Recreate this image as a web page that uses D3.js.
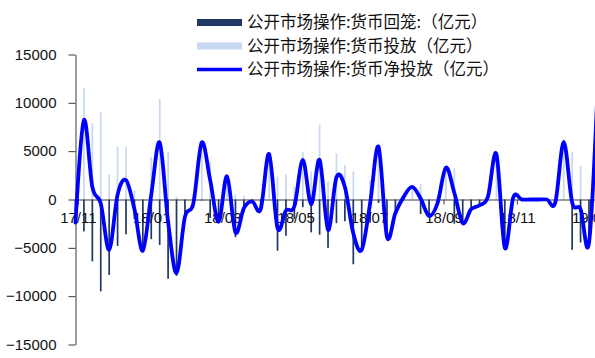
<!DOCTYPE html>
<html>
<head>
<meta charset="utf-8">
<script src="https://cdn.jsdelivr.net/npm/d3@7"></script>
<style>
  html, body { margin: 0; padding: 0; background: #fff; }
  svg { display: block; }
</style>
</head>
<body>
<svg id="chart" width="595" height="358"></svg>
<script>
// Weekly open market operations, 亿元 (week start dates)
const weeks = [
  "2017-10-30","2017-11-06","2017-11-13","2017-11-20","2017-11-27","2017-12-04","2017-12-11","2017-12-18","2017-12-25",
  "2018-01-01","2018-01-08","2018-01-15","2018-01-22","2018-01-29","2018-02-05","2018-02-12","2018-02-19","2018-02-26",
  "2018-03-05","2018-03-12","2018-03-19","2018-03-26","2018-04-02","2018-04-09","2018-04-16","2018-04-23","2018-04-30",
  "2018-05-07","2018-05-14","2018-05-21","2018-05-28","2018-06-04","2018-06-11","2018-06-18","2018-06-25","2018-07-02",
  "2018-07-09","2018-07-16","2018-07-23","2018-07-30","2018-08-06","2018-08-13","2018-08-20","2018-08-27","2018-09-03",
  "2018-09-10","2018-09-17","2018-09-24","2018-10-01","2018-10-08","2018-10-15","2018-10-22","2018-10-29","2018-11-05",
  "2018-11-12","2018-11-19","2018-11-26","2018-12-03","2018-12-10","2018-12-17","2018-12-24","2018-12-31","2019-01-07"
];
// 货币投放
const injection = [
  0, 11500, 7900, 9000, 2600, 5500, 5400, 1000, 0,
  4400, 10400, 4900, 300, 0, 500, 6000, 3900, 0,
  2400, 500, 400, 0, 0, 4700, 2350, 2600, 1300,
  4900, 2900, 7750, 1850, 4750, 3550, 2900, 0, 2000,
  5800, 0, 0, 300, 1300, 1600, 0, 0, 3300,
  3200, 0, 0, 0, 300, 4700, 0, 200, 0,
  0, 0, 0, 0, 5950, 4900, 3450, 0, 13000
];
// 货币回笼 (negative = withdrawn)
const withdrawal = [
  -2400, -3300, -6400, -9500, -7800, -4800, -3600, -2000, -5300,
  -4100, -4700, -8200, -7900, -1800, -900, -100, -1900, -2300,
  0, -3900, -1300, -200, -1000, 0, -5300, -3750, -2000,
  -800, -3400, -3650, -5000, -2450, -2250, -6700, -5200, -2400,
  -350, -3850, -1400, 0, 0, -1500, -1700, -400, 0,
  -2500, -2450, -1000, -600, 0, 0, -5000, 0, 0,
  0, 0, 0, -300, 0, -5200, -4450, -4500, -2000
];
// 货币净投放
const netInjection = [
  -2400, 8200, 1300, -400, -5200, 500, 2000, -1000, -5300,
  500, 5900, -2300, -7600, -1800, -400, 5900, 2000, -2300,
  2400, -3400, -900, -200, -1000, 4700, -2950, -1150, -700,
  4100, -500, 4100, -3150, 2300, 1300, -3500, -5200, -400,
  5450, -3850, -1400, 300, 1300, 100, -1700, -400, 3300,
  700, -2450, -1000, -600, 300, 4700, -5000, 200, 0,
  0, 0, 0, -300, 5950, -300, -1000, -4500, 11000
];
const yTicks = [-15000, -10000, -5000, 0, 5000, 10000, 15000];
const monthTicks = ["2017-11-01","2018-01-01","2018-03-01","2018-05-01","2018-07-01","2018-09-01","2018-11-01","2019-01-01"];
const seriesNames = ["公开市场操作:货币回笼:（亿元）", "公开市场操作:货币投放（亿元）", "公开市场操作:货币净投放（亿元）"];

const colWithdraw = "#1f3864";
const colInject = "#c6d9f1";
const colNet = "#0000ff";
const axisColor = "#3a3a3a";
const numFont = "'Liberation Sans', Arial, sans-serif";
const cjkFont = "'Noto Sans CJK SC', 'Noto Sans', sans-serif";

const parse = d3.timeParse("%Y-%m-%d");
const dates = weeks.map(parse);

const svg = d3.select("#chart");

const x = d3.scaleTime()
  .domain([parse("2017-10-30"), parse("2019-01-05")])
  .range([75.5, 595]);
const y = d3.scaleLinear()
  .domain([-15000, 15000])
  .range([344.5, 54.5]);

const barW = 1.7;
const plot = svg.append("g");

// injection bars (up)
plot.append("g").selectAll("rect")
  .data(dates.map((d, i) => ({ d, v: injection[i] })).filter(o => o.v > 0))
  .join("rect")
  .attr("x", o => x(o.d) - barW / 2)
  .attr("width", barW)
  .attr("y", o => y(o.v))
  .attr("height", o => y(0) - y(o.v))
  .attr("fill", colInject);

// withdrawal bars (down)
plot.append("g").selectAll("rect")
  .data(dates.map((d, i) => ({ d, v: withdrawal[i] })).filter(o => o.v < 0))
  .join("rect")
  .attr("x", o => x(o.d) - barW / 2)
  .attr("width", barW)
  .attr("y", y(0))
  .attr("height", o => y(o.v) - y(0))
  .attr("fill", colWithdraw);

// y axis
const yAxis = svg.append("g")
  .attr("transform", "translate(75.5,0)")
  .call(d3.axisLeft(y).tickValues(yTicks).tickSize(7).tickSizeOuter(0).tickPadding(12).tickFormat(d3.format("d")));
yAxis.select(".domain").attr("stroke", axisColor);
yAxis.selectAll(".tick line").attr("stroke", axisColor);
yAxis.selectAll("text").attr("font-family", numFont).attr("font-size", 15).attr("fill", "#111");

// x axis on the zero line
const xAxis = svg.append("g")
  .attr("transform", `translate(0,${y(0)})`)
  .call(d3.axisBottom(x).tickValues(monthTicks.map(parse)).tickSize(5).tickSizeOuter(0).tickPadding(8)
    .tickFormat(d3.timeFormat("%y/%m")));
xAxis.select(".domain").attr("stroke", axisColor);
xAxis.selectAll(".tick line").attr("stroke", axisColor);
xAxis.selectAll("text").attr("font-family", numFont).attr("font-size", 15).attr("fill", "#111");

// net injection line
const line = d3.line()
  .x((d, i) => x(dates[i]))
  .y(d => y(d))
  .curve(d3.curveCardinal.tension(0));
svg.append("path")
  .datum(netInjection)
  .attr("d", line)
  .attr("fill", "none")
  .attr("stroke", colNet)
  .attr("stroke-width", 3.8)
  .attr("stroke-linejoin", "round")
  .attr("stroke-linecap", "round");

// legend
const legend = svg.append("g").attr("transform", "translate(197,0)");
const rows = [22.5, 46, 69.5];
legend.append("rect").attr("x", 0).attr("y", rows[0] - 3.5).attr("width", 45).attr("height", 7).attr("fill", colWithdraw);
legend.append("rect").attr("x", 0).attr("y", rows[1] - 3.5).attr("width", 45).attr("height", 7).attr("fill", colInject);
legend.append("line").attr("x1", 0).attr("x2", 45).attr("y1", rows[2]).attr("y2", rows[2])
  .attr("stroke", colNet).attr("stroke-width", 3.5);
legend.selectAll("text")
  .data(seriesNames)
  .join("text")
  .attr("x", 50)
  .attr("y", (d, i) => rows[i])
  .attr("dy", "0.36em")
  .attr("font-family", cjkFont)
  .attr("font-size", 16.5)
  .attr("fill", "#111")
  .text(d => d);
</script>
</body>
</html>
